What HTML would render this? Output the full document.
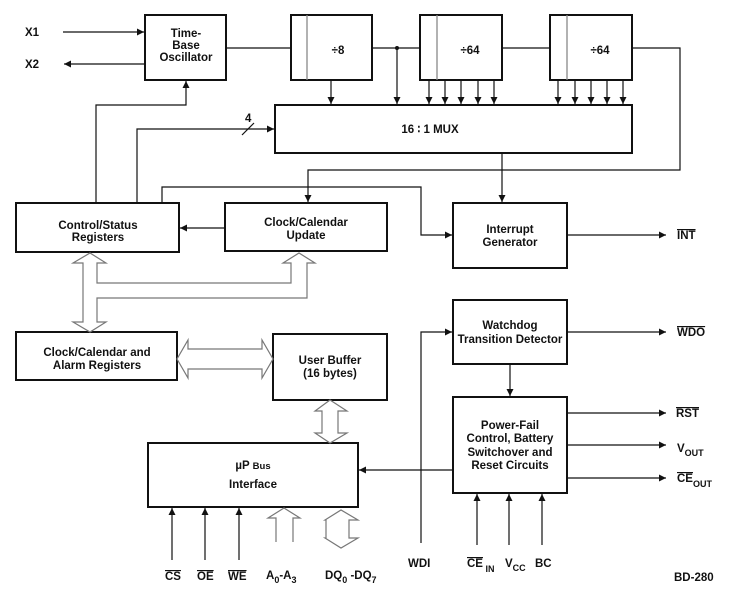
<!DOCTYPE html>
<html><head><meta charset="utf-8"><style>
html,body{margin:0;padding:0;background:#fff;}
svg{display:block;}
text{font-family:"Liberation Sans",Arial,sans-serif;font-weight:bold;font-size:11.5px;fill:#111;}
</style></head><body>
<svg width="746" height="595" viewBox="0 0 746 595" xmlns="http://www.w3.org/2000/svg">
<defs>
<marker id="a" markerWidth="8" markerHeight="8" refX="7" refY="4" orient="auto" markerUnits="userSpaceOnUse">
<path d="M0,0.5 L7,4 L0,7.5 Z" fill="#111"/></marker>
</defs>
<g fill="#fff" stroke="#111" stroke-width="2">
<rect x="145" y="15" width="81" height="65"/>
<rect x="291" y="15" width="81" height="65"/>
<rect x="420" y="15" width="82" height="65"/>
<rect x="550" y="15" width="82" height="65"/>
<rect x="275" y="105" width="357" height="48"/>
<rect x="16" y="203" width="163" height="49"/>
<rect x="225" y="203" width="162" height="48"/>
<rect x="453" y="203" width="114" height="65"/>
<rect x="16" y="332" width="161" height="48"/>
<rect x="273" y="334" width="114" height="66"/>
<rect x="148" y="443" width="210" height="64"/>
<rect x="453" y="300" width="114" height="64"/>
<rect x="453" y="397" width="114" height="96"/>
</g>
<g stroke="#888" stroke-width="1.3" fill="none">
<line x1="307" y1="15" x2="307" y2="80"/>
<line x1="437" y1="15" x2="437" y2="80"/>
<line x1="567" y1="15" x2="567" y2="80"/>
</g>
<g stroke="#111" stroke-width="1.2" fill="none">
<line x1="63" y1="32" x2="144" y2="32" marker-end="url(#a)"/>
<line x1="145" y1="64" x2="64" y2="64" marker-end="url(#a)"/>
<line x1="226" y1="48" x2="291" y2="48"/>
<line x1="372" y1="48" x2="420" y2="48"/>
<line x1="502" y1="48" x2="550" y2="48"/>
<polyline points="632,48 680,48 680,170 308,170 308,202" marker-end="url(#a)"/>
<line x1="331" y1="80" x2="331" y2="104" marker-end="url(#a)"/>
<line x1="397" y1="48" x2="397" y2="104" marker-end="url(#a)"/>
<line x1="429" y1="80" x2="429" y2="104" marker-end="url(#a)"/>
<line x1="445" y1="80" x2="445" y2="104" marker-end="url(#a)"/>
<line x1="461" y1="80" x2="461" y2="104" marker-end="url(#a)"/>
<line x1="478" y1="80" x2="478" y2="104" marker-end="url(#a)"/>
<line x1="494" y1="80" x2="494" y2="104" marker-end="url(#a)"/>
<line x1="558" y1="80" x2="558" y2="104" marker-end="url(#a)"/>
<line x1="575" y1="80" x2="575" y2="104" marker-end="url(#a)"/>
<line x1="591" y1="80" x2="591" y2="104" marker-end="url(#a)"/>
<line x1="607" y1="80" x2="607" y2="104" marker-end="url(#a)"/>
<line x1="623" y1="80" x2="623" y2="104" marker-end="url(#a)"/>
<line x1="502" y1="153" x2="502" y2="202" marker-end="url(#a)"/>
<polyline points="96,203 96,105 186,105 186,81" marker-end="url(#a)"/>
<polyline points="137,203 137,129 274,129" marker-end="url(#a)"/>
<line x1="242" y1="135" x2="254" y2="123"/>
<polyline points="162,203 162,187 421,187 421,235 452,235" marker-end="url(#a)"/>
<line x1="225" y1="228" x2="180" y2="228" marker-end="url(#a)"/>
<line x1="567" y1="235" x2="666" y2="235" marker-end="url(#a)"/>
<polyline points="421,543 421,332 452,332" marker-end="url(#a)"/>
<line x1="567" y1="332" x2="666" y2="332" marker-end="url(#a)"/>
<line x1="510" y1="364" x2="510" y2="396" marker-end="url(#a)"/>
<line x1="567" y1="413" x2="666" y2="413" marker-end="url(#a)"/>
<line x1="567" y1="445" x2="666" y2="445" marker-end="url(#a)"/>
<line x1="567" y1="478" x2="666" y2="478" marker-end="url(#a)"/>
<line x1="453" y1="470" x2="359" y2="470" marker-end="url(#a)"/>
<line x1="477" y1="545" x2="477" y2="494" marker-end="url(#a)"/>
<line x1="509" y1="545" x2="509" y2="494" marker-end="url(#a)"/>
<line x1="542" y1="545" x2="542" y2="494" marker-end="url(#a)"/>
<line x1="172" y1="560" x2="172" y2="508" marker-end="url(#a)"/>
<line x1="205" y1="560" x2="205" y2="508" marker-end="url(#a)"/>
<line x1="239" y1="560" x2="239" y2="508" marker-end="url(#a)"/>
</g>
<circle cx="397" cy="48" r="2" fill="#111"/>
<g stroke="#777" stroke-width="1.2" fill="#fff">
<path d="M83,322 L83,263 L73,263 L90,253 L106,263 L97,263 L97,283 L291,283 L291,263 L283,263 L299,253 L315,263 L307,263 L307,298 L97,298 L97,322 L106,322 L90,332 L73,322 Z"/>
<path d="M188,349 L262,349 L262,340 L273,359 L262,378 L262,369 L188,369 L188,378 L177,359 L188,340 Z"/>
<path d="M322,411 L315,411 L330,400 L347,411 L338,411 L338,433 L347,433 L330,443 L315,433 L322,433 Z"/>
<path d="M276,542 L276,518 L268,518 L284,508 L300,518 L293,518 L293,542" />
<path d="M326,520 L325,520 L341,510 L358,520 L349,520 L349,538 L358,538 L341,548 L325,538 L326,538 Z"/>
</g>
<text x="25" y="36">X1</text>
<text x="25" y="68">X2</text>
<text x="186" y="37" text-anchor="middle" font-size="11">Time-</text>
<text x="186" y="49" text-anchor="middle" font-size="11">Base</text>
<text x="186" y="61" text-anchor="middle" font-size="11">Oscillator</text>
<text x="338" y="54" text-anchor="middle" font-size="12">÷8</text>
<text x="470" y="54" text-anchor="middle" font-size="12">÷64</text>
<text x="600" y="54" text-anchor="middle" font-size="12">÷64</text>
<text x="245" y="122">4</text>
<text x="430" y="133" text-anchor="middle" font-size="11">16 ∶ 1 MUX</text>
<text x="98" y="229" text-anchor="middle" font-size="11">Control/Status</text>
<text x="98" y="241" text-anchor="middle" font-size="11">Registers</text>
<text x="306" y="226" text-anchor="middle" font-size="11">Clock/Calendar</text>
<text x="306" y="239" text-anchor="middle" font-size="11">Update</text>
<text x="510" y="233" text-anchor="middle" font-size="11">Interrupt</text>
<text x="510" y="246" text-anchor="middle" font-size="11">Generator</text>
<text x="677" y="239" text-decoration="overline">INT</text>
<text x="97" y="356" text-anchor="middle" font-size="11">Clock/Calendar and</text>
<text x="97" y="369" text-anchor="middle" font-size="11">Alarm Registers</text>
<text x="330" y="364" text-anchor="middle" font-size="11">User Buffer</text>
<text x="330" y="377" text-anchor="middle" font-size="11">(16 bytes)</text>
<text x="253" y="469" text-anchor="middle" font-size="11">µP <tspan font-size="9.5">Bus</tspan></text>
<text x="253" y="488" text-anchor="middle" font-size="11">Interface</text>
<text x="510" y="329" text-anchor="middle" font-size="11">Watchdog</text>
<text x="510" y="343" text-anchor="middle" font-size="11">Transition Detector</text>
<text x="677" y="336" text-decoration="overline">WDO</text>
<text x="510" y="429" text-anchor="middle" font-size="11">Power-Fail</text>
<text x="510" y="442" text-anchor="middle" font-size="11">Control, Battery</text>
<text x="510" y="456" text-anchor="middle" font-size="11">Switchover and</text>
<text x="510" y="469" text-anchor="middle" font-size="11">Reset Circuits</text>
<text x="676" y="417" text-decoration="overline">RST</text>
<text x="677" y="452">V<tspan font-size="9" dy="4">OUT</tspan></text>
<text x="677" y="482"><tspan text-decoration="overline">CE</tspan><tspan font-size="9" dy="5">OUT</tspan></text>
<text x="408" y="567">WDI</text>
<text x="467" y="567"><tspan text-decoration="overline">CE</tspan><tspan font-size="9" dy="5"> IN</tspan></text>
<text x="505" y="567">V<tspan font-size="9" dy="4">CC</tspan></text>
<text x="535" y="567">BC</text>
<text x="674" y="581">BD-280</text>
<text x="165" y="580" text-decoration="overline">CS</text>
<text x="197" y="580" text-decoration="overline">OE</text>
<text x="228" y="580" text-decoration="overline">WE</text>
<text x="266" y="579">A<tspan font-size="9" dy="4">0</tspan><tspan dy="-4">-A</tspan><tspan font-size="9" dy="4">3</tspan></text>
<text x="325" y="579">DQ<tspan font-size="9" dy="4">0</tspan><tspan dy="-4"> -DQ</tspan><tspan font-size="9" dy="4">7</tspan></text>
</svg>
</body></html>
